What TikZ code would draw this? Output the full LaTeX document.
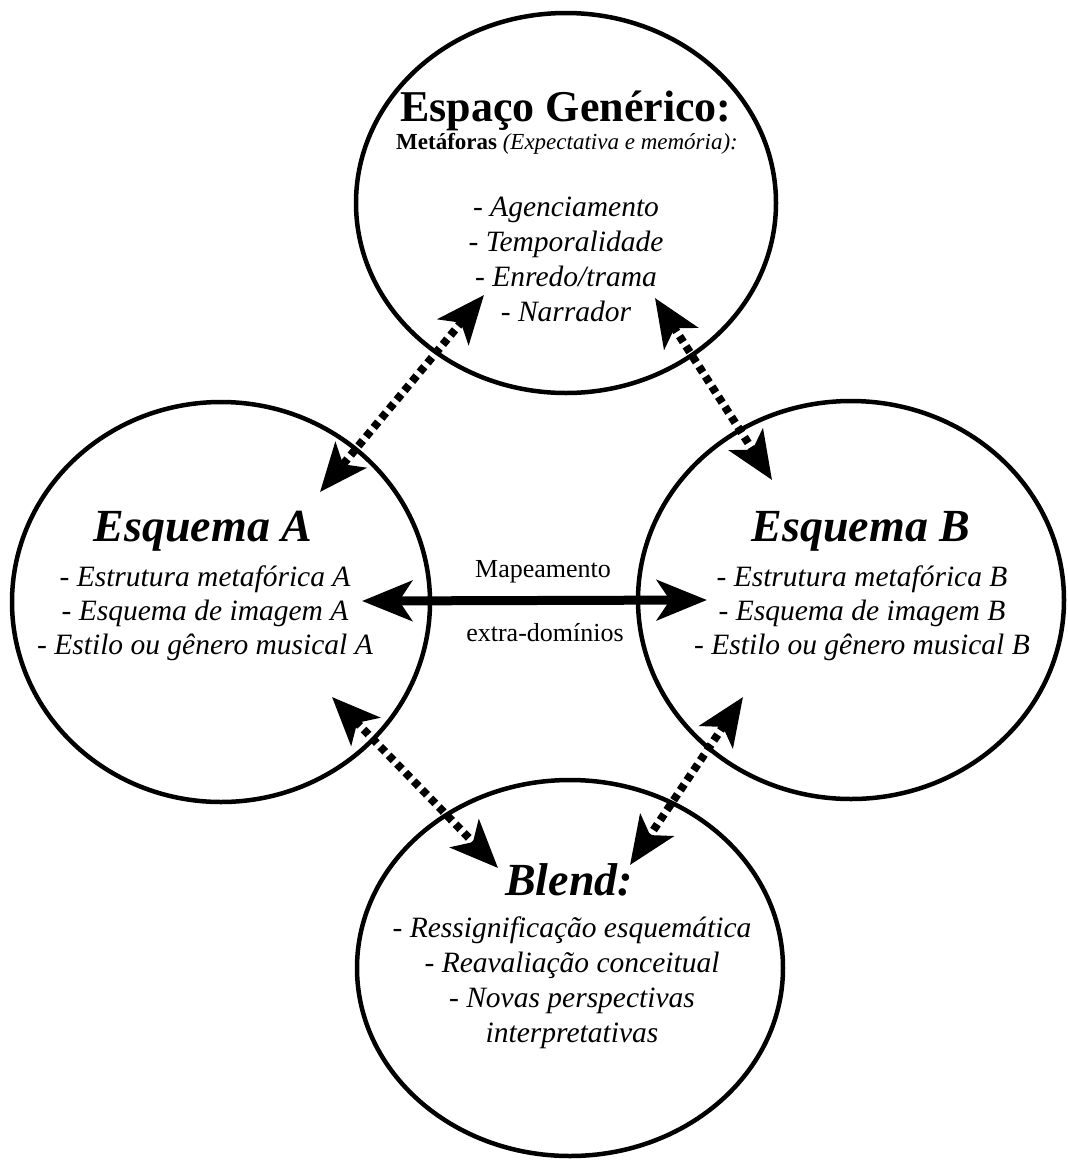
\documentclass[tikz,border=0pt]{standalone}
\usepackage{fontspec}
\setmainfont{Liberation Serif}
\usetikzlibrary{arrows.meta,shapes.geometric}
\begin{document}
\begin{tikzpicture}[x=1pt,y=-1pt,
  space/.style={draw, ellipse, line width=4.5pt, inner sep=0pt},
  tipd/.tip={Stealth[length=48pt,width=40pt,inset=12pt]},
  dotarrow/.style={line width=8pt, dash pattern=on 7pt off 5pt, tipd-tipd},
  maparrow/.style={line width=9pt, {Stealth[length=50pt,width=40pt,inset=13pt]}-{Stealth[length=50pt,width=40pt,inset=13pt]}},
  gtitle/.style={font=\fontsize{44}{50}\selectfont\bfseries, anchor=base, inner sep=0pt},
  btitle/.style={font=\fontsize{46}{52}\selectfont\bfseries\itshape, anchor=base, inner sep=0pt},
  subline/.style={font=\fontsize{23}{27}\selectfont, anchor=base, inner sep=0pt},
  item/.style={font=\fontsize{29.5}{35}\selectfont\itshape, anchor=base, inner sep=0pt},
  maplabel/.style={font=\fontsize{26}{30}\selectfont, anchor=base, inner sep=0pt}
]
\useasboundingbox (0,0) rectangle (1068,1160);
\fill[white] (0,0) rectangle (1068,1160);

% spaces
\node[space, minimum width=420pt, minimum height=380pt] (gen) at (566,203) {};
\node[space, minimum width=418pt, minimum height=400pt] (esqa) at (221,602) {};
\node[space, minimum width=426pt, minimum height=398pt] (esqb) at (851,600) {};
\node[space, minimum width=426pt, minimum height=376pt] (blend) at (570,968) {};

% generic space text
\node[gtitle] (gent) at (566,121) {Espaço Genérico:};
\node[subline] (gens) at (567,149) {\textbf{Metáforas} \textit{(Expectativa e memória):}};
\node[item] (g1) at (566,216) {- Agenciamento};
\node[item] (g2) at (566,251) {- Temporalidade};
\node[item] (g3) at (566,286) {- Enredo/trama};
\node[item] (g4) at (566,321) {- Narrador};

% Esquema A
\node[btitle] (at) at (203,541) {Esquema A};
\node[item] (a1) at (205,586) {- Estrutura metafórica A};
\node[item] (a2) at (205,620) {- Esquema de imagem A};
\node[item] (a3) at (205,654) {- Estilo ou gênero musical A};

% Esquema B
\node[btitle] (bt) at (861,541) {Esquema B};
\node[item] (b1) at (862,586) {- Estrutura metafórica B};
\node[item] (b2) at (862,620) {- Esquema de imagem B};
\node[item] (b3) at (862,654) {- Estilo ou gênero musical B};

% Blend
\node[btitle] (blt) at (569,895) {Blend:};
\node[item] (l1) at (572,937) {- Ressignificação esquemática};
\node[item] (l2) at (572,972) {- Reavaliação conceitual};
\node[item] (l3) at (572,1007) {- Novas perspectivas};
\node[item] (l4) at (572,1042) {interpretativas};

% mapping
\node[maplabel] (m1) at (543,577) {Mapeamento};
\node[maplabel] (m2) at (545,641) {extra-domínios};
\coordinate (mapl) at (362,601);
\coordinate (mapr) at (707,600);
\draw[maparrow] (mapl) -- (mapr);

% dotted arrows
\coordinate (ga) at (484,295);
\coordinate (ag) at (320,492);
\coordinate (gb) at (655,298);
\coordinate (bg) at (772,480);
\coordinate (al) at (332,697);
\coordinate (la) at (498,868);
\coordinate (bl) at (743,697);
\coordinate (lb) at (630,865);
\draw[dotarrow] (ga) -- (ag);
\draw[dotarrow] (gb) -- (bg);
\draw[dotarrow] (al) -- (la);
\draw[dotarrow] (bl) -- (lb);
\end{tikzpicture}
\end{document}
